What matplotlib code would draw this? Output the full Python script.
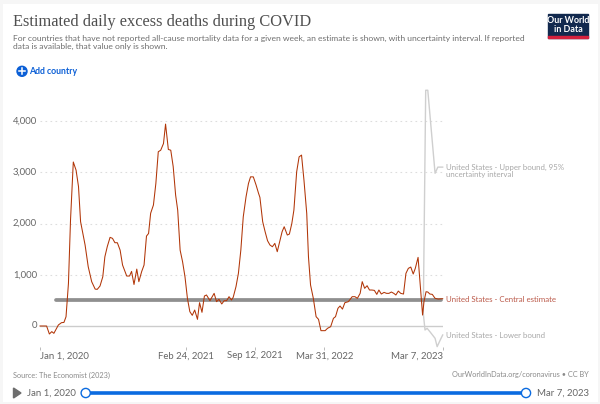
import matplotlib
matplotlib.use("Agg")
import matplotlib.pyplot as plt
from matplotlib.patches import Rectangle, Circle, Polygon

plt.rcParams["font.family"] = ["Lato", "DejaVu Sans"]

TITLE = "Estimated daily excess deaths during COVID"
SUBTITLE = ("For countries that have not reported all-cause mortality data for a given week, an estimate is shown, with uncertainty interval. If reported\n"
            "data is available, that value only is shown.")

# days since Jan 1, 2020
days = [0, 19, 27, 34, 40, 53, 62, 69, 75, 82, 88, 96, 104, 111, 117, 130, 139, 149, 159, 165, 173, 181, 187, 194,
        202, 209, 216, 223, 231, 238, 250, 258, 264, 271, 279, 285, 293, 300, 307, 313, 319, 327, 334, 341, 348,
        356, 362, 370, 377, 384, 391, 397, 404, 411, 418, 425, 432, 439, 446, 454, 460, 467, 474, 480, 490, 502,
        509, 516, 524, 531, 538, 545, 552, 557, 565, 572, 579, 586, 594, 601, 607, 615, 623, 630, 634, 642, 649,
        656, 663, 670, 677, 684, 692, 698, 704, 713, 719, 726, 732, 740, 747, 754, 761, 769, 774, 780, 788, 796,
        803, 810, 822, 829, 838, 846, 852, 859, 865, 872, 879, 889, 900, 908, 915, 923, 929, 936, 943, 950, 957,
        964, 971, 977, 984, 992, 999, 1006, 1013, 1020, 1026, 1033, 1040, 1048, 1055, 1062, 1069, 1076, 1082,
        1090, 1096, 1103, 1107, 1113, 1118, 1124, 1131, 1139, 1148, 1161]
central = [0, 0, -156, -110, -143, 20, 65, 70, 180, 830, 2070, 3200, 3040, 2720, 2035, 1580, 1157, 865, 720, 715,
           780, 960, 1350, 1550, 1730, 1710, 1625, 1625, 1480, 1190, 975, 975, 1065, 810, 1110, 865, 1060, 1190,
           1755, 1805, 2200, 2360, 2780, 3400, 3430, 3560, 3940, 3445, 3430, 3110, 2555, 2260, 1480, 1255, 960,
           540, 280, 208, 312, 130, 455, 267, 585, 605, 494, 637, 475, 520, 430, 494, 494, 572, 507, 560, 767,
           1027, 1480, 2130, 2520, 2780, 2910, 2910, 2750, 2590, 2510, 2035, 1840, 1664, 1580, 1547, 1612, 1450,
           1677, 1840, 1937, 1775, 1794, 2000, 2262, 3010, 3300, 3335, 2847, 2197, 1350, 800, 540, 182, 130, -91,
           -91, -45, -13, 150, 182, 345, 390, 330, 455, 475, 572, 572, 540, 637, 865, 735, 786, 702, 702, 695, 617,
           702, 624, 656, 637, 637, 663, 637, 605, 682, 637, 624, 1027, 1125, 1150, 1014, 1125, 1339, 832, 214,
           475, 669, 663, 624, 617, 540, 526, 533]

upper_days = [1105, 1112, 1118, 1139, 1147, 1161]
upper = [250, 4600, 4600, 2980, 3100, 3100]
lower_days = [1105, 1110, 1116, 1124, 1139, 1145, 1153, 1161]
lower = [250, -78, -45, -110, -240, -403, -286, -175]

y_ticks = [0, 1000, 2000, 3000, 4000]
y_labels = ["0", "1,000", "2,000", "3,000", "4,000"]
x_ticks = [0, 420, 620, 820, 1161]
x_labels = ["Jan 1, 2020", "Feb 24, 2021", "Sep 12, 2021", "Mar 31, 2022", "Mar 7, 2023"]

W, H = 600, 404
fig = plt.figure(figsize=(W / 100, H / 100), dpi=100, facecolor="#f6f6f6")


def px(x, y):
    return x / W, 1 - y / H


# white card behind everything
fig.add_artist(Rectangle((3 / W, 2 / H), 595 / W, 1 - 6 / H, transform=fig.transFigure,
                         facecolor="white", edgecolor="none", zorder=-5))

# axes placed so that x runs 40..443 px and y 0 at 326 px, 4000 at 121 px
top, bottom = 88, 347
ax = fig.add_axes([40 / W, 1 - bottom / H, 402.7 / W, (bottom - top) / H])
ax.set_xlim(0, 1161)
ax.set_ylim((326 - bottom) / 205 * 4000, (326 - top) / 205 * 4000)
ax.patch.set_visible(False)
for s in ax.spines.values():
    s.set_visible(False)

for v in y_ticks[1:]:
    ax.axhline(v, color="#dddddd", lw=0.8, ls=(0, (1.5, 3)), zorder=1)
ax.axhline(0, color="#cccccc", lw=1, zorder=1)

ax.plot(upper_days, upper, color="#cfcfcf", lw=1, zorder=2, clip_on=False)
ax.plot(lower_days, lower, color="#cfcfcf", lw=1, zorder=2, clip_on=False)
ax.plot([46, 1156], [505, 505], color="#8f8f8f", lw=2.7, solid_capstyle="round", zorder=3)
ax.plot(days, central, color="#b13507", lw=0.75, zorder=4, clip_on=False)

ax.set_xticks(x_ticks)
ax.set_xticklabels([])
ax.set_yticks(y_ticks)
ax.set_yticklabels([])
ax.tick_params(axis="y", length=0)
ax.tick_params(axis="x", length=2.5, width=0.7, color="#bbbbbb", direction="out", pad=0)

GREY = "#666666"
LIGHT = "#a8a8a8"

for v, lab in zip(y_ticks, y_labels):
    py = 326 - v * 205 / 4000
    fig.text(*px(37, py), lab, ha="right", va="center", fontsize=6.9, color=GREY)

# tick labels, first and last are kept inside the axis ends
for d, lab in zip(x_ticks, x_labels):
    x = 40 + d * 402.7 / 1161
    ha = "left" if d == 0 else ("right" if d == 1161 else "center")
    fig.text(*px(x, 356), lab, ha=ha, va="center", fontsize=6.9, color=GREY)

fig.text(*px(13, 22.5), TITLE, family="Liberation Serif", fontsize=11.8, color="#4f4f4f", va="center")
fig.text(*px(13, 42.5), SUBTITLE, fontsize=6.1, color="#6e6e6e", va="center", linespacing=1.17)

# add country button
fig.text(*px(29, 71.5), "Add country", fontsize=6.35, color="#0b5fd6", va="center", fontweight="bold")

# series labels
fig.text(*px(445.5, 171), "United States - Upper bound, 95%\nuncertainty interval", fontsize=5.7,
         color=LIGHT, va="center", linespacing=1.05)
fig.text(*px(445.5, 299), "United States - Central estimate", fontsize=5.7, color="#bb5a4a", va="center")
fig.text(*px(445.5, 335.5), "United States - Lower bound", fontsize=5.7, color=LIGHT, va="center")

fig.text(*px(13, 375), "Source: The Economist (2023)", fontsize=5.3, color="#8a8a8a", va="center")
fig.text(*px(589, 375), "OurWorldInData.org/coronavirus \u2022 CC BY", fontsize=5.35, color="#8a8a8a",
         va="center", ha="right")

# overlay in pixel coordinates for logo and timeline
ov = fig.add_axes([0, 0, 1, 1])
ov.set_xlim(0, W)
ov.set_ylim(H, 0)
ov.axis("off")
ov.patch.set_visible(False)

ov.add_patch(Circle((22, 71.3), 5, color="#0b5fd6"))
ov.plot([19, 25], [71.3, 71.3], color="white", lw=1.1)
ov.plot([22, 22], [68.3, 74.3], color="white", lw=1.1)

ov.add_patch(Rectangle((548, 14), 40, 24, color="#12294e"))
ov.add_patch(Rectangle((548, 36), 40, 2, color="#d4213d"))
ov.text(568, 25, "Our World\nin Data", color="white", fontsize=6.4, fontweight="bold",
        ha="center", va="center", linespacing=0.95)

ov.add_patch(Polygon([(13.5, 388), (13.5, 398), (21, 393)], color="#6e6e6e"))
ov.text(27, 393, "Jan 1, 2020", fontsize=6.9, color=GREY, va="center")
ov.plot([86, 526], [393, 393], color="#0b6be0", lw=2.6, solid_capstyle="butt")
for cx in (85.7, 526):
    ov.add_patch(Circle((cx, 393), 4.6, facecolor="white", edgecolor="#0b6be0", lw=1, zorder=5))
ov.text(537, 393, "Mar 7, 2023", fontsize=6.9, color=GREY, va="center")

fig.savefig("out.png", dpi=100)
